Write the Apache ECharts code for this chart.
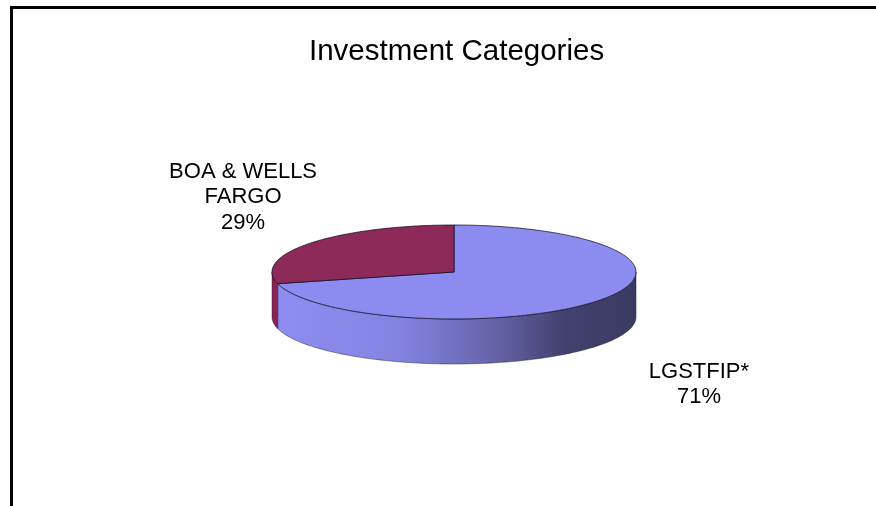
<!DOCTYPE html>
<html><head><meta charset="utf-8">
<script src="https://cdn.jsdelivr.net/npm/echarts@6/dist/echarts.min.js"></script>
<style>html,body{margin:0;padding:0;background:#fff}#chart{width:876px;height:506px}</style>
</head><body><div id="chart"></div>
<script>
const chartTitle = 'Investment Categories';
const categories = ['LGSTFIP*', 'BOA & WELLS\nFARGO'];
const values = [71, 29];

const topColors = ['#8c8cf0', '#8e2a5a'];
const sideStops = [
  [[0, '#8e8ef2'], [0.35, '#8383e2'], [0.6, '#6666ac'], [0.8, '#42426f'], [1, '#3a3a62']],
  [[0, '#8a2254'], [1, '#5a1436']]
];

const total = values.reduce((a, b) => a + b, 0);
const G = { cx: 454, cy: 272, rx: 182, ry: 47, depth: 45 };

function pt(deg, dy) {
  const r = deg * Math.PI / 180;
  return [G.cx + G.rx * Math.cos(r), G.cy - G.ry * Math.sin(r) + (dy || 0)];
}
function arc(from, to, dy) {
  const pts = [];
  const n = Math.max(2, Math.ceil(Math.abs(to - from) / 1.5));
  for (let k = 0; k <= n; k++) pts.push(pt(from + (to - from) * k / n, dy));
  return pts;
}

function renderItem(params, api) {
  const i = params.dataIndex;
  const v = api.value(0);
  let before = 0;
  for (let k = 0; k < i; k++) before += values[k];
  const a0 = 90 - before / total * 360;
  const a1 = a0 - v / total * 360;
  const children = [];
  for (let k = -1; k <= 1; k++) {
    const lo = -180 + 360 * k, hi = 0 + 360 * k;
    const s = Math.max(a1, lo), e = Math.min(a0, hi);
    if (e > s) {
      const top = arc(s, e, 0);
      const bot = arc(e, s, G.depth);
      children.push({
        type: 'polygon',
        shape: { points: top.concat(bot) },
        style: {
          fill: new echarts.graphic.LinearGradient(G.cx - G.rx, 0, G.cx + G.rx, 0,
            sideStops[i].map(s => ({ offset: s[0], color: s[1] })), true),
          stroke: 'rgba(20,20,40,0.55)', lineWidth: 0.8
        }
      });
    }
  }
  const topPts = [[G.cx, G.cy]].concat(arc(a0, a1, 0));
  children.push({
    type: 'polygon',
    shape: { points: topPts },
    style: { fill: topColors[i], stroke: 'rgba(10,10,30,0.8)', lineWidth: 0.9 }
  });
  const mid = (a0 + a1) / 2 * Math.PI / 180;
  const c = Math.cos(mid), sn = Math.sin(mid);
  const lx = G.cx + 17 + c * G.rx * 1.585;
  const ly = G.cy + 2 - sn * G.ry * 2.66 + (sn < 0 ? G.depth * 0.75 : 0);
  const pct = Math.round(v / total * 100);
  children.push({
    type: 'text',
    x: lx, y: ly,
    style: {
      text: api.value(1) + '\n' + pct + '%',
      x: 0, y: 0,
      fontFamily: 'Liberation Sans, Arial, sans-serif',
      fontSize: 22, lineHeight: 25.5,
      fill: '#000', align: 'center', verticalAlign: 'middle'
    }
  });
  return { type: 'group', children };
}

const chart = echarts.init(document.getElementById('chart'), null, { renderer: 'canvas' });
chart.setOption({
  backgroundColor: '#fff',
  animation: false,
  title: {
    text: chartTitle,
    left: 304, top: 32,
    textStyle: { fontFamily: 'Liberation Sans, Arial, sans-serif', fontSize: 29.5, fontWeight: 'normal', color: '#000' }
  },
  graphic: [{
    type: 'rect', silent: true,
    shape: { x: 11.5, y: 7.5, width: 1000, height: 1000 },
    style: { fill: 'none', stroke: '#000', lineWidth: 3 }
  }],
  series: [{
    type: 'custom',
    coordinateSystem: 'none',
    silent: true,
    renderItem: renderItem,
    data: values.map((v, i) => ({ name: categories[i], value: [v, categories[i]] }))
  }]
});
</script>
</body></html>
